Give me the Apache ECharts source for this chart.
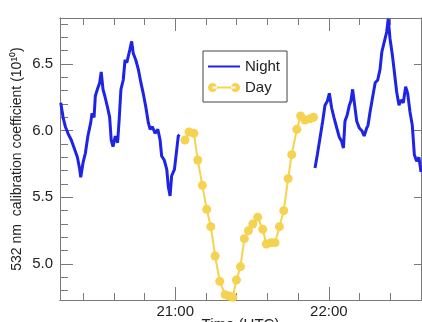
<!DOCTYPE html>
<html>
<head>
<meta charset="utf-8">
<script src="https://cdn.jsdelivr.net/npm/echarts@6.0.0/dist/echarts.min.js"></script>
<style>
  html, body { margin: 0; padding: 0; background: #fff; }
  #chart { width: 422px; height: 322px; }
</style>
</head>
<body>
<div id="chart"></div>
<script>
// times are minutes after 20:00 UTC
const nightTimeA = [15.3, 16.2, 17.1, 18.1, 19.4, 20.7, 21.8, 22.7, 23.1, 24.0, 24.9, 25.9, 27.0, 27.5, 28.3, 28.8, 29.6, 30.5, 31.1, 31.8, 32.5, 33.5, 34.4, 35.0, 35.7, 36.6, 37.5, 38.1, 38.8, 39.7, 40.4, 41.1, 41.7, 42.3, 43.0, 43.6, 44.6, 45.6, 46.6, 47.5, 48.5, 49.5, 50.2, 51.1, 52.1, 53.2, 54.1, 54.7, 55.7, 56.7, 57.3, 58.0, 58.6, 59.7, 60.6, 61.2, 61.7];
const nightValueA = [6.21, 6.10, 6.03, 5.98, 5.93, 5.86, 5.80, 5.71, 5.65, 5.76, 5.83, 5.96, 6.06, 6.13, 6.10, 6.26, 6.31, 6.36, 6.44, 6.31, 6.26, 6.18, 6.10, 5.93, 5.88, 5.96, 5.91, 6.08, 6.31, 6.38, 6.53, 6.51, 6.56, 6.61, 6.67, 6.58, 6.53, 6.46, 6.36, 6.28, 6.18, 6.06, 6.01, 6.03, 5.98, 6.01, 5.93, 5.81, 5.78, 5.71, 5.58, 5.51, 5.66, 5.71, 5.86, 5.96, 5.97];

const nightTimeB = [114.6, 115.5, 116.6, 117.6, 118.5, 119.4, 120.2, 121.1, 122.0, 123.1, 124.1, 125.0, 125.7, 126.3, 127.2, 128.0, 128.6, 129.3, 130.1, 130.9, 131.9, 132.9, 133.8, 134.8, 135.3, 136.1, 137.0, 138.1, 139.1, 140.0, 140.7, 141.7, 142.6, 143.2, 143.9, 144.8, 145.6, 146.5, 147.4, 148.2, 149.1, 150.0, 150.8, 151.7, 152.6, 153.4, 154.3, 155.2, 156.0];
const nightValueB = [5.72, 5.82, 5.95, 6.07, 6.19, 6.22, 6.28, 6.17, 6.10, 6.02, 5.95, 5.92, 5.87, 6.07, 6.12, 6.19, 6.22, 6.31, 6.19, 6.07, 6.02, 6.00, 5.96, 6.02, 6.04, 6.14, 6.24, 6.36, 6.38, 6.46, 6.59, 6.67, 6.74, 6.84, 6.69, 6.57, 6.44, 6.29, 6.19, 6.23, 6.21, 6.33, 6.28, 6.14, 6.04, 5.82, 5.77, 5.80, 5.69];

const dayTime = [63.8, 65.4, 67.3, 68.8, 70.6, 72.3, 73.9, 75.6, 77.4, 79.5, 81.1, 82.5, 83.9, 85.5, 87.0, 88.6, 90.3, 92.2, 94.2, 95.6, 97.4, 99.0, 100.7, 102.4, 104.1, 105.5, 107.5, 109.0, 110.7, 112.7, 114.0];
const dayValue = [5.93, 5.99, 5.98, 5.78, 5.59, 5.41, 5.28, 5.06, 4.87, 4.77, 4.76, 4.75, 4.88, 4.98, 5.19, 5.25, 5.30, 5.35, 5.26, 5.15, 5.16, 5.16, 5.28, 5.40, 5.64, 5.82, 6.01, 6.11, 6.08, 6.09, 6.10];

const xMinorTicks = [24, 36, 48, 60, 72, 84, 96, 108, 120, 132, 144, 156];
const xMajorTicks = [60, 120];
const yMinorTicks = [4.8, 4.9, 5.0, 5.1, 5.2, 5.3, 5.4, 5.5, 5.6, 5.7, 5.8, 5.9, 6.0, 6.1, 6.2, 6.3, 6.4, 6.5, 6.6, 6.7, 6.8];
const yMajorTicks = [5.0, 5.5, 6.0, 6.5];

const BLUE = '#1e24e6';
const YELLOW = '#f5d24f';
const AXIS = '#7a7a7a';
const FONT = 'Liberation Sans, Arial, sans-serif';

const pairs = (xs, ys) => xs.map((x, i) => [x, ys[i]]);
const hhmm = m => (20 + Math.floor(m / 60)) + ':' + String(Math.round(m % 60)).padStart(2, '0');

function xAx(position, ticks, len, withLabels) {
  return {
    type: 'value', position: position, min: 15, max: 156,
    axisLine: { show: true, onZero: false, lineStyle: { color: AXIS, width: 1 } },
    axisTick: { show: true, inside: true, length: len, customValues: ticks, lineStyle: { color: AXIS } },
    axisLabel: withLabels
      ? { show: true, customValues: ticks, formatter: hhmm, fontSize: 15, color: '#222', fontFamily: FONT, margin: 4 }
      : { show: false },
    splitLine: { show: false }
  };
}

function yAx(position, ticks, len, withLabels) {
  return {
    type: 'value', position: position, min: 4.73, max: 6.845,
    axisLine: { show: true, onZero: false, lineStyle: { color: AXIS, width: 1 } },
    axisTick: { show: true, inside: true, length: len, customValues: ticks, lineStyle: { color: AXIS } },
    axisLabel: withLabels
      ? { show: true, customValues: ticks, formatter: v => v.toFixed(1), fontSize: 15, color: '#222', fontFamily: FONT, margin: 7 }
      : { show: false },
    splitLine: { show: false }
  };
}

const xBottom = xAx('bottom', xMajorTicks, 13, true);
xBottom.name = 'Time (UTC)';
xBottom.nameLocation = 'middle';
xBottom.nameGap = 17;
xBottom.nameMoveOverlap = false;
xBottom.nameTextStyle = { fontSize: 15, color: '#222', fontFamily: FONT, verticalAlign: 'top' };

const yLeft = yAx('left', yMajorTicks, 13, true);
yLeft.name = '532 nm  calibration coefficient (10¹⁰)';
yLeft.nameLocation = 'middle';
yLeft.nameGap = 36;
yLeft.nameMoveOverlap = false;
yLeft.nameTextStyle = { fontSize: 14, color: '#222', fontFamily: FONT };

const chart = echarts.init(document.getElementById('chart'), null, { renderer: 'canvas' });
chart.setOption({
  animation: false,
  backgroundColor: '#fff',
  grid: { left: 60, top: 18, right: 1, bottom: 22, outerBoundsMode: 'none' },
  legend: {
    orient: 'vertical', left: 203, top: 51,
    padding: [8, 7, 7, 5], itemGap: 6,
    itemWidth: 32, itemHeight: 9,
    borderColor: '#444', borderWidth: 1, backgroundColor: '#fff',
    textStyle: { fontSize: 15, color: '#222', fontFamily: FONT },
    data: [
      { name: 'Night', icon: 'path://M0,3.5h32v2h-32z' },
      { name: 'Day', icon: 'path://M0,4.5a4.5,4.5 0 1,0 9,0a4.5,4.5 0 1,0 -9,0zM23,4.5a4.5,4.5 0 1,0 9,0a4.5,4.5 0 1,0 -9,0zM4.5,3.5h23v2h-23z' }
    ]
  },
  xAxis: [
    xAx('bottom', xMinorTicks, 7, false),
    xBottom,
    xAx('top', xMinorTicks, 7, false),
    xAx('top', xMajorTicks, 13, false)
  ],
  yAxis: [
    yAx('left', yMinorTicks, 8, false),
    yLeft,
    yAx('right', yMajorTicks, 7, false)
  ],
  series: [
    {
      name: 'Night', type: 'line', xAxisIndex: 0, yAxisIndex: 0,
      data: pairs(nightTimeA, nightValueA), symbol: 'none',
      lineStyle: { color: BLUE, width: 3 }, itemStyle: { color: BLUE }
    },
    {
      name: 'Night', type: 'line', xAxisIndex: 0, yAxisIndex: 0,
      data: pairs(nightTimeB, nightValueB), symbol: 'none',
      lineStyle: { color: BLUE, width: 3 }, itemStyle: { color: BLUE }
    },
    {
      name: 'Day', type: 'line', xAxisIndex: 0, yAxisIndex: 0,
      data: pairs(dayTime, dayValue), symbol: 'circle', symbolSize: 9,
      lineStyle: { color: YELLOW, width: 2 }, itemStyle: { color: YELLOW }
    }
  ]
});
</script>
</body>
</html>
